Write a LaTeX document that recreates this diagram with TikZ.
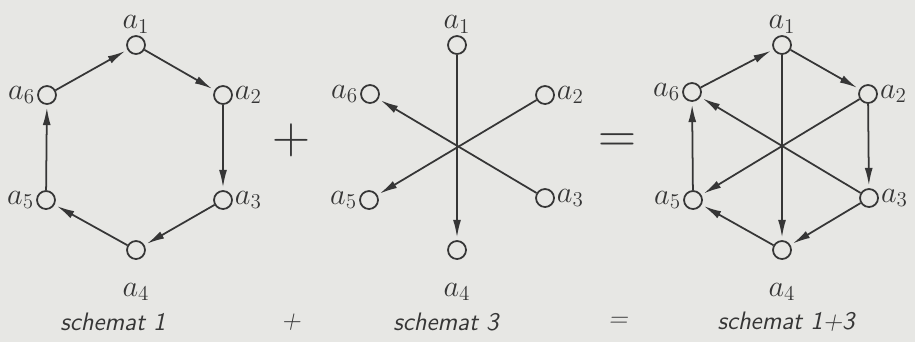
\documentclass[tikz,border=0pt]{standalone}
\usepackage{amsmath}
\usetikzlibrary{arrows.meta,positioning}
\definecolor{ink}{HTML}{363636}
\definecolor{paper}{HTML}{E7E7E4}
\tikzset{vertex/.style={circle,draw=ink,fill=paper,line width=1pt,minimum size=0.36cm,inner sep=0pt},every label/.style={font=\LARGE,text=ink,inner sep=1pt},flowarr/.style={-{Latex[length=10pt,width=4.5pt]},draw=ink,line width=1pt,shorten >=1.5pt},spoke/.style={draw=ink,line width=1pt},captiontext/.style={font=\sffamily\itshape\Large,text=ink},bigsign/.style={font=\fontsize{30}{30}\selectfont,text=ink}}

\begin{document}
\begin{tikzpicture}[x=0.02cm,y=-0.02cm]
\fill[paper] (0,0) rectangle (915,342);
\useasboundingbox (0,0) rectangle (915,342);
% schemat 1
\node[vertex,label={above:$a_1$}] (p1) at (136,45) {};
\node[vertex,label={right:$a_2$}] (p2) at (223,95) {};
\node[vertex,label={right:$a_3$}] (p3) at (223,200) {};
\node[vertex,label={[label distance=12pt]below:$a_4$}] (p4) at (136,250) {};
\node[vertex,label={left:$a_5$}] (p5) at (46,200) {};
\node[vertex,label={left:$a_6$}] (p6) at (47,95) {};
\draw[flowarr] (p6)--(p1);
\draw[flowarr] (p1)--(p2);
\draw[flowarr] (p2)--(p3);
\draw[flowarr] (p3)--(p4);
\draw[flowarr] (p4)--(p5);
\draw[flowarr] (p5)--(p6);
\node[bigsign] (plus) at (291,140) {+};
% schemat 3
\node[vertex,label={above:$a_1$}] (s1) at (457,45) {};
\node[vertex,label={right:$a_2$}] (s2) at (545,95) {};
\node[vertex,label={right:$a_3$}] (s3) at (545,198) {};
\node[vertex,label={[label distance=12pt]below:$a_4$}] (s4) at (457,250) {};
\node[vertex,label={left:$a_5$}] (s5) at (369,200) {};
\node[vertex,label={left:$a_6$}] (s6) at (370,94) {};
\draw[flowarr] (s1)--(s4);
\draw[flowarr] (s2)--(s5);
\draw[flowarr] (s3)--(s6);
\node[bigsign] (equal) at (617,143) {=};
% schemat 1+3
\node[vertex,label={above:$a_1$}] (c1) at (782,45) {};
\node[vertex,label={right:$a_2$}] (c2) at (868,94) {};
\node[vertex,label={right:$a_3$}] (c3) at (869,198) {};
\node[vertex,label={[label distance=12pt]below:$a_4$}] (c4) at (782,250) {};
\node[vertex,label={left:$a_5$}] (c5) at (693,200) {};
\node[vertex,label={left:$a_6$}] (c6) at (692,92) {};
\draw[flowarr] (c6)--(c1);
\draw[flowarr] (c1)--(c2);
\draw[flowarr] (c2)--(c3);
\draw[flowarr] (c3)--(c4);
\draw[flowarr] (c4)--(c5);
\draw[flowarr] (c5)--(c6);
\draw[flowarr] (c1)--(c4);
\draw[flowarr] (c2)--(c5);
\draw[flowarr] (c3)--(c6);
% captions
\node[captiontext] (cap1) at (113,322) {schemat 1};
\node[captiontext] (capplus) at (291,322) {+};
\node[captiontext] (cap3) at (446,322) {schemat 3};
\node[captiontext] (capeq) at (618,322) {=};
\node[captiontext] (cap13) at (786,322) {schemat 1+3};
\end{tikzpicture}
\end{document}
